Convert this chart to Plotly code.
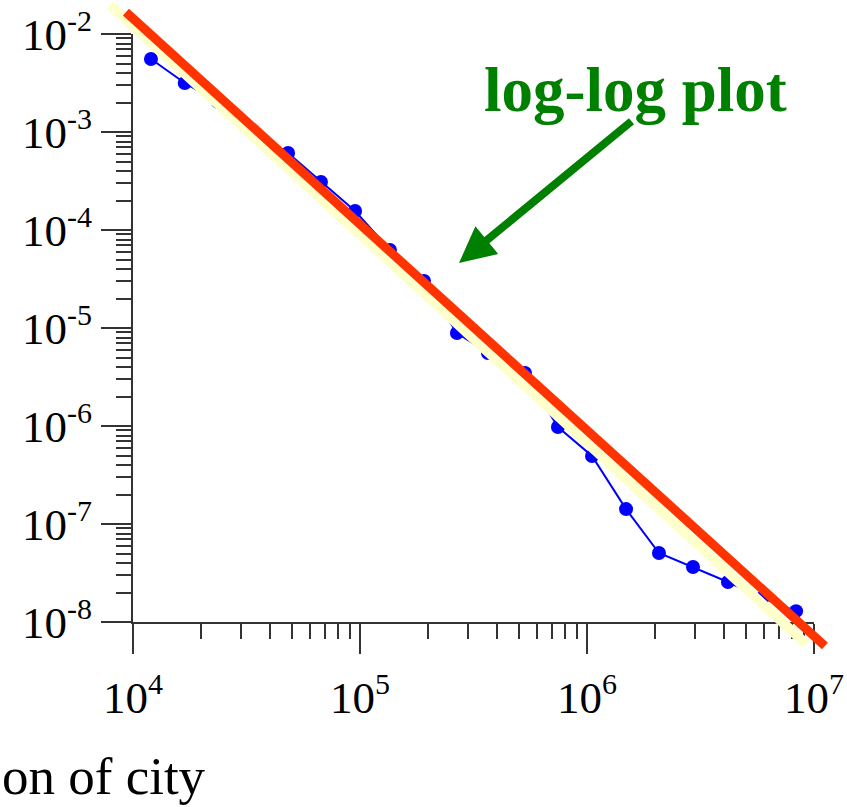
import plotly.graph_objects as go

# ---- data ----
city_size = [12000, 16900, 23700, 33800, 48200, 67300, 95100, 135500, 191400, 267300,
             366400, 533300, 744700, 1052000, 1486000, 2075000, 2931000, 4178000, 5902000, 8337000]
probability = [5.56e-3, 3.16e-3, 2.02e-3, 1.00e-3, 6.11e-4, 3.09e-4, 1.56e-4, 6.25e-5, 3.02e-5, 8.89e-6,
               5.56e-6, 3.48e-6, 9.77e-7, 4.94e-7, 1.42e-7, 5.06e-8, 3.64e-8, 2.56e-8, 1.76e-8, 1.29e-8]

fit_red_x = [9311, 11170000]
fit_red_y = [0.01675, 5.69e-9]
fit_yellow_x = [7925, 9226000]
fit_yellow_y = [0.01977, 5.97e-9]

y_tickvals = [1e-8, 1e-7, 1e-6, 1e-5, 1e-4, 1e-3, 1e-2]
y_exponents = ["-8", "-7", "-6", "-5", "-4", "-3", "-2"]
x_tickvals = [1e4, 1e5, 1e6, 1e7]
x_exponents = ["4", "5", "6", "7"]

title_text = "on of city"
note_text = "log-log plot"

W, H = 847, 807
FONT = "Liberation Serif"
AX = "#333333"


def power_label(e):
    return "10<sup><span style='font-size:30px'>" + e + "</span></sup>"


y_ticktext = [power_label(e) for e in y_exponents]
x_ticktext = [power_label(e) for e in x_exponents]

x_minor = [m * 10 ** e for e in range(4, 7) for m in range(2, 10)]
y_minor = [m * 10 ** e for e in range(-8, -2) for m in range(2, 10)]

fig = go.Figure()

fig.add_trace(go.Scatter(
    x=city_size, y=probability, mode="lines+markers",
    line=dict(color="#0000FF", width=2),
    marker=dict(color="#0000FF", size=14),
    xaxis="x", yaxis="y", showlegend=False,
))

fig.add_trace(go.Scatter(
    x=fit_yellow_x, y=fit_yellow_y, mode="lines",
    line=dict(color="#FFFFCC", width=10),
    xaxis="x2", yaxis="y2", showlegend=False,
))
fig.add_trace(go.Scatter(
    x=fit_red_x, y=fit_red_y, mode="lines",
    line=dict(color="#FF3300", width=9),
    xaxis="x2", yaxis="y2", showlegend=False,
))

# pixel geometry of the main axes
x0, x1 = 133, 814
y_top, y_bot = 34, 622
px_per_dec_x = (x1 - x0) / 3.0
px_per_dec_y = (y_bot - y_top) / 6.0

tickfont = dict(family=FONT, size=45, color="black")

fig.update_layout(
    width=W, height=H,
    margin=dict(l=0, r=0, t=0, b=0, autoexpand=False),
    paper_bgcolor="white", plot_bgcolor="rgba(0,0,0,0)",
    showlegend=False,
    xaxis=dict(
        type="log", range=[4, 7], domain=[x0 / W, x1 / W], anchor="y", automargin=False,
        showgrid=False, zeroline=False, showline=True, linecolor=AX, linewidth=2,
        ticks="outside", ticklen=30, tickwidth=2, tickcolor=AX,
        tickmode="array", tickvals=x_tickvals, ticktext=x_ticktext,
        tickfont=tickfont, ticklabelstandoff=5,
        minor=dict(ticks="outside", ticklen=15, tickwidth=2, tickcolor=AX,
                   tickmode="array", tickvals=x_minor, showgrid=False),
    ),
    yaxis=dict(
        type="log", range=[-8, -2], domain=[1 - y_bot / H, 1 - y_top / H], anchor="x", automargin=False,
        showgrid=False, zeroline=False, showline=True, linecolor=AX, linewidth=2,
        ticks="outside", ticklen=30, tickwidth=2, tickcolor=AX,
        tickmode="array", tickvals=y_tickvals, ticktext=y_ticktext,
        tickfont=tickfont, ticklabelstandoff=0,
        minor=dict(ticks="outside", ticklen=15, tickwidth=2, tickcolor=AX,
                   tickmode="array", tickvals=y_minor, showgrid=False),
    ),
    xaxis2=dict(
        type="log", domain=[0, 1], anchor="y2", automargin=False,
        range=[4 + (0 - x0) / px_per_dec_x, 4 + (W - x0) / px_per_dec_x],
        visible=False, showgrid=False, zeroline=False,
    ),
    yaxis2=dict(
        type="log", domain=[0, 1], anchor="x2", automargin=False,
        range=[-2 - (H - y_top) / px_per_dec_y, -2 + y_top / px_per_dec_y],
        visible=False, showgrid=False, zeroline=False,
    ),
)

fig.add_annotation(
    text=note_text, xref="paper", yref="paper", x=635 / W, y=1 - 90 / H,
    showarrow=False, xanchor="center", yanchor="middle",
    font=dict(family=FONT, size=63, color="#008000", weight="bold"),
)
fig.add_annotation(
    text="", xref="paper", yref="paper", x=459 / W, y=1 - 263 / H,
    ax=174, ay=-143, showarrow=True, arrowhead=2, arrowwidth=8, arrowsize=0.9,
    arrowcolor="#008000", standoff=0,
)
fig.add_annotation(
    text=title_text, xref="paper", yref="paper", x=0, y=1 - 776 / H,
    showarrow=False, xanchor="left", yanchor="middle",
    font=dict(family=FONT, size=53, color="black"),
)

fig.write_html("out.html")
